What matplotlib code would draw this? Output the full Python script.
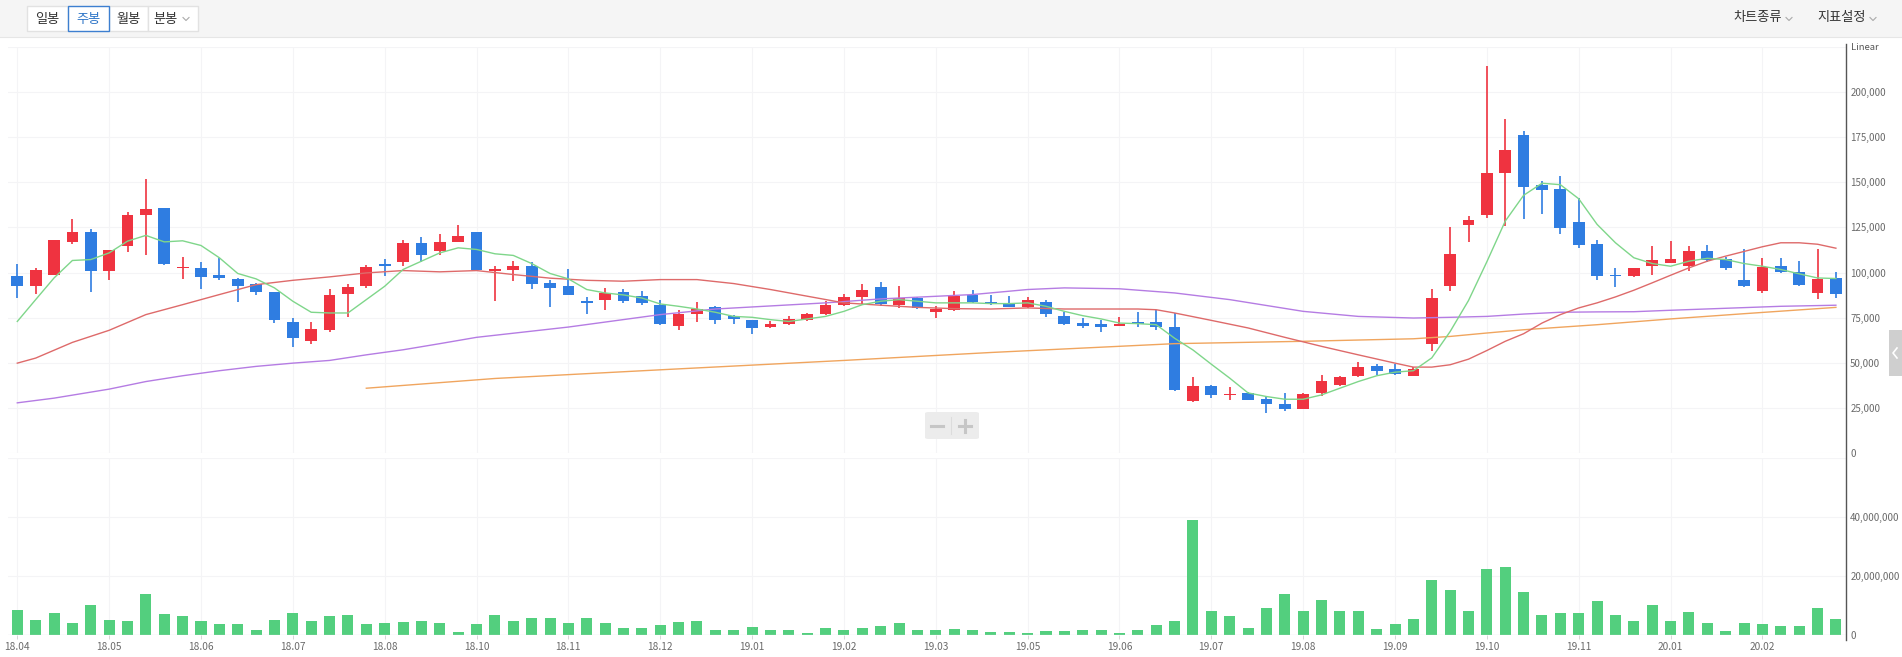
import numpy as np
import matplotlib
matplotlib.use("Agg")
import matplotlib.pyplot as plt
from matplotlib.patches import Rectangle, FancyBboxPatch
from matplotlib.lines import Line2D
from matplotlib.ticker import FuncFormatter

plt.rcParams['font.family'] = ['Noto Sans CJK KR', 'DejaVu Sans']

# weekly candles (KRW)
opens = [98340, 92410, 98900, 117000, 122500, 100600, 114600, 131900, 135700, 102400,
         102600, 98700, 96500, 93700, 89300, 72600, 61900, 68000, 88000, 92800,
         104600, 105600, 116300, 112000, 117000, 122400, 100700, 101500, 103900, 94400,
         92800, 84100, 84600, 89300, 87200, 81900, 70600, 77000, 80900, 75900,
         73700, 69800, 71500, 73500, 77000, 82000, 86700, 92000, 82200, 86100,
         78000, 79100, 87400, 83900, 82800, 80900, 83700, 75900, 72000, 71600,
         70400, 72800, 72400, 70000, 28700, 36900, 31900, 33000, 30000, 27400,
         24400, 33500, 37800, 42400, 48300, 46300, 42600, 60200, 92400, 126500,
         131900, 155000, 176300, 148300, 146100, 127800, 115700, 98900, 97900, 103700,
         105300, 103400, 112000, 107700, 96100, 89600, 103900, 100400, 88500, 97200]
highs = [104820, 102600, 117800, 129600, 124300, 112400, 133700, 151700, 135700, 108700,
         105600, 107800, 97000, 94300, 89300, 74600, 72600, 90900, 93700, 104100,
         107600, 117800, 119500, 121300, 126500, 122400, 103500, 106500, 105700, 95900,
         101700, 86300, 91700, 91100, 89800, 84600, 79500, 83500, 81300, 76500,
         73700, 73300, 76100, 77600, 84100, 88300, 93700, 94600, 92400, 86500,
         81700, 89800, 90400, 87400, 87200, 86700, 85000, 78100, 74600, 73900,
         75600, 78300, 79000, 77600, 42000, 37800, 36500, 33900, 31300, 33500,
         33500, 43300, 42800, 50200, 49300, 49300, 47600, 90900, 125200, 131100,
         214300, 185000, 178200, 150900, 153300, 141300, 118300, 102600, 102400, 114600,
         117400, 114500, 115500, 108800, 112800, 108100, 108100, 106500, 112800, 100400]
lows = [85930, 88150, 98500, 115900, 89000, 96100, 111300, 109600, 104300, 96700,
        90900, 95900, 83700, 87600, 71900, 58700, 60600, 67000, 75400, 91500,
        98000, 103500, 106100, 109600, 116700, 100700, 84100, 95200, 90900, 80700,
        87400, 77000, 79000, 83000, 82000, 71100, 68000, 72400, 71700, 71300,
        66100, 69100, 71100, 73300, 76700, 81300, 82600, 81700, 80200, 79600,
        74600, 78500, 83200, 81800, 80700, 80200, 75200, 71100, 69100, 67100,
        70200, 69600, 67900, 34600, 28500, 30400, 29400, 29100, 22000, 23100,
        24300, 31700, 37400, 42200, 43200, 43500, 42400, 56300, 89600, 116900,
        130200, 125700, 129500, 132200, 121300, 113500, 95700, 92200, 97600, 98500,
        105300, 101100, 106100, 101300, 92200, 88500, 99600, 92600, 85200, 86100]
closes = [92410, 101300, 117800, 122700, 100600, 112400, 131900, 135000, 104500, 103150,
          97600, 97000, 92400, 89100, 73500, 63500, 68700, 87600, 92200, 103200,
          103500, 116300, 110000, 117200, 120400, 101300, 102000, 103900, 93500, 91500,
          87800, 83400, 88700, 84100, 83300, 71500, 77200, 80000, 73500, 74300,
          69100, 71600, 74300, 77000, 82000, 86500, 90200, 82400, 85700, 80200,
          79800, 86900, 83500, 82600, 81100, 84800, 77200, 71700, 70600, 70000,
          71600, 71500, 70100, 35000, 37400, 32000, 32800, 29400, 27000, 24400,
          32600, 39800, 42200, 47800, 45400, 43700, 46300, 85900, 110200, 129300,
          155400, 168000, 147400, 145900, 124800, 115000, 97900, 98200, 102400, 106800,
          107400, 111900, 107000, 102300, 92500, 102900, 100200, 93000, 96700, 88000]

# volume, millions of shares
volumes = [8.6, 5.1, 7.4, 4.2, 10.2, 5.1, 4.9, 13.9, 7.1, 6.5,
           4.9, 3.8, 3.8, 1.8, 5.1, 7.4, 4.9, 6.5, 6.9, 3.8,
           4.0, 4.3, 4.9, 4.0, 1.1, 3.8, 6.9, 4.9, 5.8, 5.8,
           4.2, 5.8, 4.0, 2.4, 2.4, 3.4, 4.3, 4.9, 1.8, 1.6,
           2.7, 1.6, 1.6, 0.7, 2.4, 1.8, 2.4, 3.1, 4.0, 1.6,
           1.6, 2.2, 1.6, 1.0, 1.0, 0.7, 1.3, 1.3, 1.6, 1.6,
           0.7, 1.8, 3.4, 4.9, 38.9, 8.2, 6.5, 2.4, 9.3, 13.9,
           8.0, 12.0, 8.0, 8.3, 2.2, 3.8, 5.5, 18.5, 15.4, 8.0,
           22.3, 23.2, 14.7, 6.7, 7.4, 7.4, 11.4, 6.7, 4.9, 10.2,
           4.9, 7.7, 4.2, 1.5, 4.0, 3.8, 3.1, 3.1, 9.3, 5.5]

# moving averages
ma5 = [72900, 85000, 97000, 106700, 107200, 110900, 117400, 120600, 117000, 117600,
       115000, 108200, 99500, 96500, 91500, 84100, 78000, 77600, 77600, 85000,
       92400, 101700, 106300, 110900, 113700, 112800, 110400, 109500, 105000, 99500,
       96500, 90600, 88700, 87600, 85900, 82600, 81300, 79800, 78000, 75700,
       75200, 73900, 72900, 74300, 75700, 78500, 82200, 84100, 85000, 84100,
       83200, 83200, 83200, 82800, 82800, 83200, 81300, 78500, 76100, 74300,
       72000, 71700, 71100, 63600, 57100, 49200, 41500, 33300, 31300, 29800,
       29800, 32200, 35900, 39600, 42800, 44800, 45600, 52700, 67300, 84500,
       106000, 128500, 142800, 149500, 148700, 140900, 126700, 116500, 108200, 105000,
       103500, 106300, 107900, 107200, 105000, 103500, 101700, 99300, 97000, 96700]

ma20_x = [0, 1, 3, 5, 7, 9, 11, 13, 15, 17, 19, 21, 23, 25, 27, 29, 31, 33, 35, 37,
          39, 41, 43, 45, 47, 49, 51, 53, 55, 57, 59, 61, 62, 63, 65, 67, 69, 71, 73, 75,
          76, 77, 78, 79, 80, 81, 82, 83, 84, 85, 86, 87, 88, 89, 90, 91, 92, 93, 94, 95,
          96, 97, 98, 99]
ma20 = [49800, 52600, 61300, 68000, 76700, 82200, 87800, 93300, 95700, 97600,
        99800, 101100, 100400, 101100, 98900, 96900, 95700, 95200, 96100, 96100,
        93900, 90600, 86900, 83200, 81900, 80700, 80000, 79800, 80400, 79800,
        79800, 79800, 79400, 77600, 73500, 69300, 64100, 59100, 54400, 49800,
        47600, 47600, 48900, 52000, 56800, 61900, 66100, 72000, 76700, 80400,
        83200, 86500, 90200, 94300, 98500, 102600, 106300, 109100, 111700, 114300,
        116500, 116500, 115700, 113500]

ma60_x = [0, 2, 5, 7, 9, 11, 13, 15, 17, 19, 21, 23, 25, 30, 35, 38, 44, 47, 52, 55,
          57, 60, 63, 66, 70, 73, 76, 78, 80, 82, 84, 86, 88, 90, 93, 96, 99]
ma60 = [27800, 30400, 35400, 39600, 42800, 45600, 48000, 49800, 51300, 54400,
        57200, 60600, 64100, 69800, 76700, 79800, 83200, 85400, 87800, 90600,
        91500, 91000, 88700, 85000, 78500, 75700, 74800, 75200, 75700, 77000,
        78000, 78200, 78300, 79100, 80200, 81300, 81900]

ma120_x = [19, 26, 35, 45, 53, 63, 70, 76, 78, 80, 82, 86, 90, 94, 99]
ma120 = [35900, 41300, 46100, 51300, 55700, 60600, 61900, 63300, 64600, 66500,
         68300, 71100, 74300, 77200, 80700]

tick_labels = ['18.04', '18.05', '18.06', '18.07', '18.08', '18.10', '18.11', '18.12',
               '19.01', '19.02', '19.03', '19.05', '19.06', '19.07', '19.08', '19.09',
               '19.10', '19.11', '20.01', '20.02']

W, H = 1902, 657
RED = '#ef3340'
BLUE = '#2f7de1'
GRID = '#f4f4f6'
LBL = '#6a6a6a'


def fx(px):
    return px / W


def fy(py):
    return 1 - py / H


fig = plt.figure(figsize=(W / 100, H / 100), dpi=100)
fig.patch.set_facecolor('white')

# toolbar
fig.add_artist(Rectangle((0, fy(37)), 1, 37 / H, transform=fig.transFigure,
                         facecolor='#f5f5f5', edgecolor='none'))
fig.add_artist(Line2D([0, 1], [fy(37), fy(37)], transform=fig.transFigure,
                      color='#e6e6e6', lw=0.8))
buttons = [('일봉', 27, 68), ('주봉', 68, 109), ('월봉', 109, 148), ('분봉', 148, 198)]
for k, (txt, x0, x1) in enumerate(buttons):
    sel = k == 1
    fig.add_artist(Rectangle((fx(x0), fy(31)), (x1 - x0) / W, 25 / H,
                             transform=fig.transFigure, facecolor='white',
                             edgecolor='#3d7fd0' if sel else '#e2e2e2',
                             lw=1.0, zorder=3 if sel else 2))
    cx = (x0 + x1) / 2 if k < 3 else 166
    fig.text(fx(cx), fy(19), txt, ha='center', va='center', fontsize=9.5,
             color='#2f76c8' if sel else '#333333')


def chevron(cx, cy, color='#aaaaaa'):
    fig.add_artist(Line2D([fx(cx - 3), fx(cx), fx(cx + 3)],
                          [fy(cy - 1.5), fy(cy + 1.5), fy(cy - 1.5)],
                          transform=fig.transFigure, color=color, lw=0.8))


chevron(186, 19)
fig.text(fx(1758), fy(18), '차트종류', ha='center', va='center', fontsize=9.5, color='#333333')
chevron(1789, 19)
fig.text(fx(1842), fy(18), '지표설정', ha='center', va='center', fontsize=9.5, color='#333333')
chevron(1873, 19)

x = np.arange(len(opens))
xlim = (-0.506, 99.55)
ticks = np.arange(0, 100, 5)

# price panel
ax = fig.add_axes([fx(8), fy(453), 1838 / W, 406 / H])
ax.set_xlim(*xlim)
ax.set_ylim(0, 225000)
for y in range(0, 225001, 25000):
    ax.axhline(y, color=GRID, lw=0.8, zorder=0)
for t in ticks:
    ax.axvline(t, color=GRID, lw=0.8, zorder=0)

o = np.array(opens)
c = np.array(closes)
up = c >= o
cols = np.where(up, RED, BLUE)
ax.vlines(x, lows, highs, colors=cols, lw=1.2, zorder=2)
body = np.maximum(np.abs(c - o), 700)
ax.bar(x, body, bottom=np.minimum(o, c), width=0.64, color=cols, zorder=3)

ax.plot(ma120_x, ma120, color='#f0a55e', lw=1.0, zorder=4)
ax.plot(ma60_x, ma60, color='#b57ce3', lw=1.0, zorder=4)
ax.plot(ma20_x, ma20, color='#de6a6a', lw=1.0, zorder=4)
ax.plot(x, ma5, color='#7fd68a', lw=1.0, zorder=4)

ax.yaxis.tick_right()
ax.set_yticks(range(0, 200001, 25000))
ax.yaxis.set_major_formatter(FuncFormatter(lambda v, p: f'{int(v):,}'))
ax.tick_params(axis='y', length=0, pad=3, labelsize=7, labelcolor=LBL)
ax.set_xticks([])
for s in ax.spines.values():
    s.set_visible(False)

# volume panel
axv = fig.add_axes([fx(8), fy(635), 1838 / W, 177 / H])
axv.set_xlim(*xlim)
axv.set_ylim(0, 60e6)
for y in (20e6, 40e6, 60e6):
    axv.axhline(y, color=GRID, lw=0.8, zorder=0)
for t in ticks:
    axv.axvline(t, color=GRID, lw=0.8, zorder=0)
axv.bar(x, np.array(volumes) * 1e6, width=0.6, color='#53cf7e', zorder=2)
axv.axhline(0, color='#d8dbe2', lw=0.9, zorder=3)
axv.yaxis.tick_right()
axv.set_yticks([0, 20e6, 40e6])
axv.yaxis.set_major_formatter(FuncFormatter(lambda v, p: f'{int(v):,}'))
axv.tick_params(axis='y', length=0, pad=3, labelsize=7, labelcolor=LBL)
axv.set_xticks(ticks)
axv.set_xticklabels(tick_labels)
axv.tick_params(axis='x', length=3, width=0.6, color='#d0d0d0', pad=2,
                labelsize=7.3, labelcolor=LBL)
for s in axv.spines.values():
    s.set_visible(False)

# right axis line and scale name
fig.add_artist(Line2D([fx(1846), fx(1846)], [fy(44), fy(640)], transform=fig.transFigure,
                      color='#555555', lw=1.0))
fig.text(fx(1851), fy(48), 'Linear', ha='left', va='center', fontsize=6.8, color='#555555')

# zoom control
fig.add_artist(FancyBboxPatch((fx(925), fy(439)), 54 / W, 27 / H,
                              boxstyle='round,pad=0,rounding_size=0.002',
                              transform=fig.transFigure, facecolor='#ececec',
                              edgecolor='none'))
fig.add_artist(Line2D([fx(937) - 6 / W, fx(937) + 6 / W], [fy(425.5)] * 2,
                      transform=fig.transFigure, color='#c6c6c6', lw=2.2))
fig.add_artist(Line2D([fx(965) - 6 / W, fx(965) + 6 / W], [fy(425.5)] * 2,
                      transform=fig.transFigure, color='#c6c6c6', lw=2.2))
fig.add_artist(Line2D([fx(965)] * 2, [fy(419.5), fy(431.5)],
                      transform=fig.transFigure, color='#c6c6c6', lw=2.2))
fig.add_artist(Line2D([fx(951)] * 2, [fy(417), fy(434)],
                      transform=fig.transFigure, color='#dcdcdc', lw=0.8))

# side tab
fig.add_artist(Rectangle((fx(1889), fy(376)), 13 / W, 46 / H, transform=fig.transFigure,
                         facecolor='#cfcfcf', edgecolor='none'))
fig.add_artist(Line2D([fx(1897), fx(1893), fx(1897)], [fy(348), fy(353), fy(358)],
                      transform=fig.transFigure, color='white', lw=1.2))

fig.savefig('out.png', dpi=100, facecolor='white')
